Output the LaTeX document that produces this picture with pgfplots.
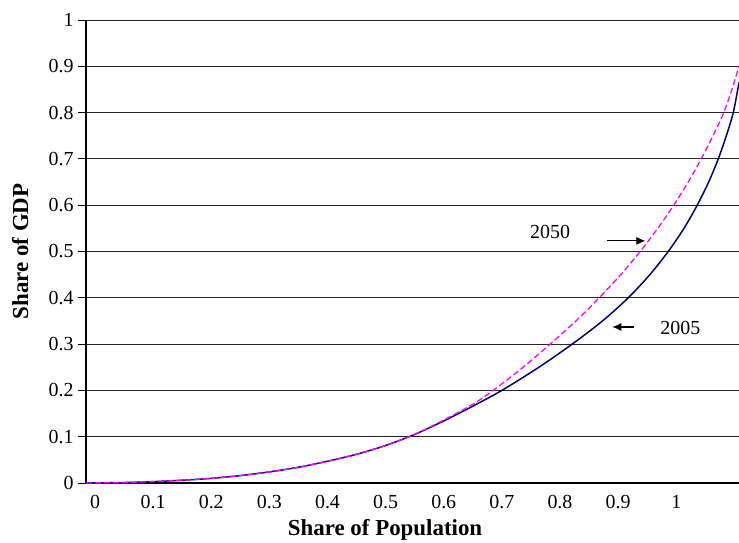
\documentclass[border=0pt]{standalone}
\usepackage{fontspec}
\setmainfont{Liberation Serif}
\usepackage{pgfplots}
\pgfplotsset{compat=1.18}
\usetikzlibrary{arrows.meta}
\begin{document}
\begin{tikzpicture}
\begin{axis}[name=ax, scale only axis, width=653bp, height=463bp,
  xmin=-0.0155, xmax=1.108, ymin=0, ymax=1,
  axis x line*=bottom, axis y line*=left,
  axis line style={line width=1.6bp, black},
  xtick={0,0.1,0.2,0.3,0.4,0.5,0.6,0.7,0.8,0.9,1},
  xticklabels={0,0.1,0.2,0.3,0.4,0.5,0.6,0.7,0.8,0.9,1},
  ytick={0,0.1,0.2,0.3,0.4,0.5,0.6,0.7,0.8,0.9,1},
  yticklabels={0,0.1,0.2,0.3,0.4,0.5,0.6,0.7,0.8,0.9,1},
  xtick style={draw=none},
  ytick style={line width=0.8bp, black},
  tick align=outside, major tick length=8bp,
  ymajorgrids, grid style={line width=0.9bp, black!85},
  tick label style={font=\fontsize{20}{22}\selectfont},
  xticklabel style={yshift=-1bp},
  yticklabel style={xshift=-1bp},
  xlabel={Share of Population}, ylabel={Share of GDP},
  label style={font=\fontsize{23}{26}\selectfont\bfseries},
  xlabel style={at={(axis description cs:0.458,-0.102)}, anchor=center},
  ylabel style={at={(axis description cs:-0.101,0.5)}, anchor=center},
]
\addplot[color={rgb,255:red,0;green,0;blue,128}, line width=1.5bp, smooth] coordinates {
(-0.0155,0) (0.05,0.001) (0.1,0.003) (0.15,0.006) (0.2,0.010) (0.25,0.016)
(0.3,0.024) (0.35,0.034) (0.4,0.047) (0.45,0.062) (0.5,0.081) (0.55,0.105)
(0.6,0.134) (0.65,0.166) (0.700,0.2) (0.7637,0.25) (0.8210,0.3) (0.8731,0.35)
(0.9174,0.4) (0.9546,0.45) (0.9862,0.5) (1.0133,0.55) (1.0361,0.6) (1.0558,0.65)
(1.0723,0.7) (1.0862,0.75) (1.0981,0.8) (1.108,0.865)
};
\addplot[color={rgb,255:red,255;green,0;blue,255}, line width=1.3bp, dash pattern=on 6bp off 3bp, smooth] coordinates {
(-0.0155,0) (0.05,0.001) (0.1,0.003) (0.15,0.006) (0.2,0.010) (0.25,0.016)
(0.3,0.024) (0.35,0.034) (0.4,0.047) (0.45,0.062) (0.5,0.081) (0.55,0.105)
(0.6,0.136) (0.65,0.170) (0.6850,0.2) (0.7367,0.25) (0.7831,0.3) (0.8275,0.35)
(0.8675,0.4) (0.9046,0.45) (0.9380,0.5) (0.9683,0.55) (0.9957,0.6) (1.0207,0.65)
(1.0430,0.7) (1.0633,0.75) (1.0818,0.8) (1.0959,0.85) (1.108,0.9)
};
\node[font=\fontsize{20}{22}\selectfont] at (axis cs:0.783,0.542) {2050};
\draw[-{Latex[length=9bp,width=8bp]}, line width=1.1bp] (axis cs:0.881,0.523) -- (axis cs:0.947,0.523);
\node[font=\fontsize{20}{22}\selectfont] at (axis cs:1.007,0.335) {2005};
\draw[-{Latex[length=9bp,width=8bp]}, line width=1.1bp] (axis cs:0.928,0.337) -- (axis cs:0.890,0.337);
\end{axis}
\pgfresetboundingbox
\path[use as bounding box] ([xshift=-86bp,yshift=-60bp]ax.south west) rectangle ([yshift=20bp]ax.north east);
\end{tikzpicture}
\end{document}
